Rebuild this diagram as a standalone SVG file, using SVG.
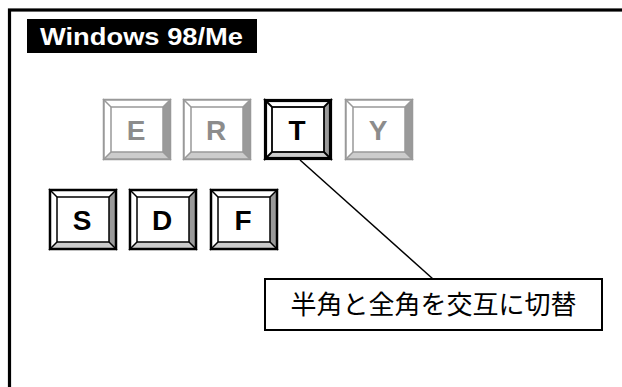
<svg xmlns="http://www.w3.org/2000/svg" xmlns:xlink="http://www.w3.org/1999/xlink" width="622" height="387" viewBox="0 0 622 387">
<style>
.key-letter{font-family:"Liberation Sans",Arial,sans-serif;font-weight:bold;font-size:28px;text-anchor:middle}
.gray .key-letter{fill:#8c8c8c}
.black .key-letter{fill:#000}
.callout-text{font-family:"Noto Sans CJK JP","Noto Sans CJK SC",sans-serif;font-size:26px;fill:#000}
</style>
<defs>
<g id="bevel">
<path d="M0,0 L68,0 L60,8 L8,8 Z" fill="#fff"/>
<path d="M0,0 L8,8 L8,53 L0,61 Z" fill="#fff"/>
<path d="M68,0 L68,61 L60,53 L60,8 Z" fill="#9a9a9a"/>
<path d="M0,61 L68,61 L60,53 L8,53 Z" fill="#cccccc"/>
<rect x="8" y="8" width="52" height="45" fill="#fff"/>
</g>
<g id="keyGray">
<use xlink:href="#bevel"/>
<g fill="none" stroke="#999" stroke-width="1.5">
<rect x="8" y="8" width="52" height="45"/>
<path d="M0,0 L8,8 M68,0 L60,8 M0,61 L8,53 M68,61 L60,53"/>
<rect x="0.75" y="0.75" width="66.5" height="59.5" stroke-width="2"/>
</g>
</g>
<g id="keyBlack">
<use xlink:href="#bevel"/>
<g fill="none" stroke="#000" stroke-width="1.5">
<rect x="8" y="8" width="52" height="45"/>
<path d="M0,0 L8,8 M68,0 L60,8 M0,61 L8,53 M68,61 L60,53"/>
<rect x="1" y="1" width="66" height="59" stroke-width="2.5"/>
</g>
</g>
<g id="keyBold">
<use xlink:href="#bevel"/>
<g fill="none" stroke="#000" stroke-width="1.8">
<rect x="8" y="8" width="52" height="45"/>
<path d="M0,0 L8,8 M68,0 L60,8 M0,61 L8,53 M68,61 L60,53"/>
<rect x="1.5" y="1.5" width="65" height="58" stroke-width="3.2"/>
</g>
</g>
</defs>
<rect width="622" height="387" fill="#fff"/>
<g id="frame">
<rect x="9.5" y="10" width="800" height="600" fill="none" stroke="#000" stroke-width="3.2"/>
</g>
<g id="title">
<rect x="27" y="19" width="230" height="34" fill="#000"/>
<text x="40" y="45" font-family="Liberation Sans,Arial,sans-serif" font-weight="bold" font-size="24" fill="#fff" textLength="203" lengthAdjust="spacingAndGlyphs">Windows 98/Me</text>
</g>
<g id="connectors">
<line x1="300" y1="160" x2="433" y2="279" stroke="#000" stroke-width="1.5"/>
</g>
<g id="key-E" class="gray" transform="translate(103,99)">
<use xlink:href="#keyGray"/>
<text class="key-letter" x="33" y="41">E</text>
</g>
<g id="key-R" class="gray" transform="translate(183,99)">
<use xlink:href="#keyGray"/>
<text class="key-letter" x="33" y="41">R</text>
</g>
<g id="key-T" class="black" transform="translate(264,99)">
<use xlink:href="#keyBold"/>
<text class="key-letter" x="33" y="41">T</text>
</g>
<g id="key-Y" class="gray" transform="translate(345,99)">
<use xlink:href="#keyGray"/>
<text class="key-letter" x="33" y="41">Y</text>
</g>
<g id="key-S" class="black" transform="translate(49,189)">
<use xlink:href="#keyBlack"/>
<text class="key-letter" x="33" y="41">S</text>
</g>
<g id="key-D" class="black" transform="translate(129,189)">
<use xlink:href="#keyBlack"/>
<text class="key-letter" x="33" y="41">D</text>
</g>
<g id="key-F" class="black" transform="translate(210,189)">
<use xlink:href="#keyBlack"/>
<text class="key-letter" x="33" y="41">F</text>
</g>
<g id="callout">
<rect x="265" y="279" width="337" height="51" fill="#fff" stroke="#000" stroke-width="2"/>
<text class="callout-text" x="433.5" y="314" text-anchor="middle">半角と全角を交互に切替</text>
</g>
</svg>
